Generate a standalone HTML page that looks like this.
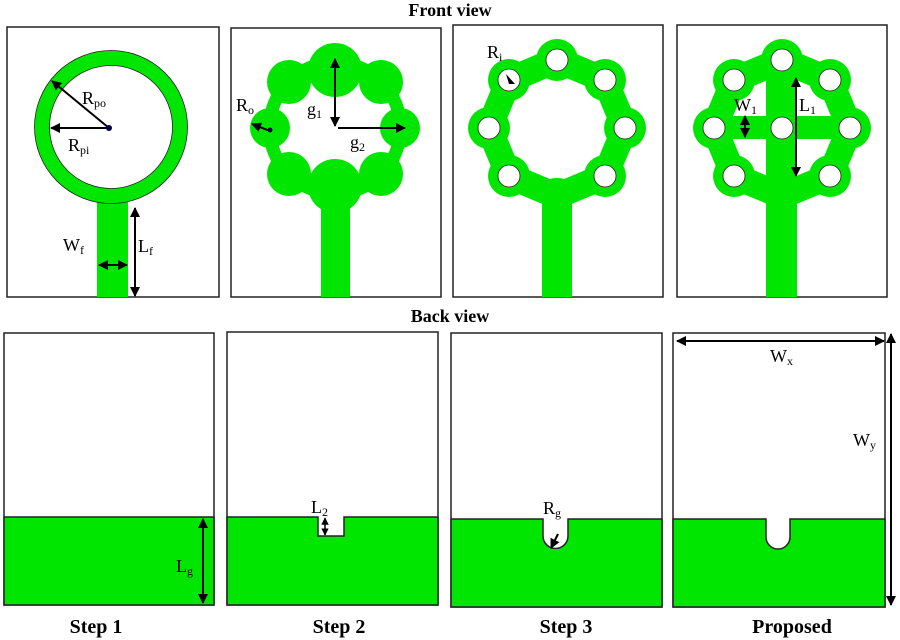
<!DOCTYPE html>
<html><head><meta charset="utf-8"><style>
html,body{margin:0;padding:0;background:#fff;}
svg{display:block;font-family:"Liberation Serif",serif;}
</style></head><body>
<svg width="900" height="640" viewBox="0 0 900 640" xmlns="http://www.w3.org/2000/svg">
<defs>
<marker id="a" viewBox="0 0 10 10" refX="9" refY="5" markerWidth="5" markerHeight="5" orient="auto-start-reverse"><path d="M0,0L10,5L0,10z" fill="#000"/></marker>
</defs>
<g fill="#000" font-weight="bold" font-size="18" text-anchor="middle">
<text x="450" y="16">Front view</text>
<text x="450" y="322">Back view</text>
<text x="96" y="633" font-size="20">Step 1</text>
<text x="339" y="633" font-size="20">Step 2</text>
<text x="566" y="633" font-size="20">Step 3</text>
<text x="792" y="633" font-size="20">Proposed</text>
</g>
<g fill="#fff" stroke="#222" stroke-width="1.5">
<rect x="7" y="27" width="212" height="270"/>
<rect x="231" y="28" width="210" height="269"/>
<rect x="453" y="25" width="210" height="272"/>
<rect x="677" y="25" width="210" height="272"/>
</g>
<!-- Panel 1 -->
<g>
<rect x="97" y="195" width="31" height="102" fill="#00e600"/>
<circle cx="111" cy="127" r="69" fill="none" stroke="#00e600" stroke-width="15"/>
<circle cx="111" cy="127" r="76.5" fill="none" stroke="#222" stroke-width="0.8"/>
<circle cx="111" cy="127" r="61.5" fill="none" stroke="#222" stroke-width="0.8"/>
<g stroke="#000" stroke-width="2" marker-end="url(#a)">
<line x1="109" y1="128" x2="52" y2="81"/>
<line x1="109" y1="128" x2="51" y2="128"/>
<line x1="135" y1="208" x2="135" y2="296" marker-start="url(#a)"/>
<line x1="99" y1="265" x2="127" y2="265" marker-start="url(#a)"/>
</g>
<circle cx="109" cy="128" r="3" fill="#004"/>
<text x="82" y="104" font-size="18">R<tspan font-size="12" dy="3">po</tspan></text>
<text x="68" y="151" font-size="18">R<tspan font-size="12" dy="3">pi</tspan></text>
<text x="63" y="251" font-size="18">W<tspan font-size="12" dy="3">f</tspan></text>
<text x="138" y="252" font-size="18">L<tspan font-size="12" dy="3">f</tspan></text>
</g>
<!-- Panel 2 -->
<g fill="#00e600">
<rect x="321" y="195" width="29" height="102"/>
<circle cx="335" cy="128" r="72"/>
<circle cx="335" cy="128" r="59" fill="#fff"/>
<circle cx="335" cy="70" r="27"/><circle cx="335" cy="186" r="27"/>
<circle cx="270" cy="128" r="20"/><circle cx="400" cy="128" r="20"/>
<circle cx="289" cy="82" r="22"/><circle cx="381" cy="82" r="22"/>
<circle cx="289" cy="174" r="22"/><circle cx="381" cy="174" r="22"/>
<g stroke="#000" stroke-width="2" marker-end="url(#a)" fill="none">
<line x1="335" y1="122" x2="335" y2="59"/>
<line x1="335" y1="100" x2="335" y2="126"/>
<line x1="338" y1="128" x2="405" y2="128"/>
<line x1="270" y1="131" x2="252" y2="124"/>
</g>
<circle cx="270" cy="130" r="2.5" fill="#004"/>
<text x="236" y="111" font-size="18" fill="#000">R<tspan font-size="12" dy="3">o</tspan></text>
<text x="307" y="115" font-size="18" fill="#000">g<tspan font-size="12" dy="3">1</tspan></text>
<text x="350" y="148" font-size="18" fill="#000">g<tspan font-size="12" dy="3">2</tspan></text>
</g>
<!-- Panel 3 -->
<g fill="#00e600">
<rect x="542" y="195" width="30" height="102"/>
<polygon points="625,128 605,176 557,196 509,176 489,128 509,80 557,60 605,80" fill="none" stroke="#00e600" stroke-width="26" stroke-linejoin="round"/>
<ellipse cx="557" cy="192" rx="20" ry="14"/>
<circle cx="625" cy="128" r="21"/><circle cx="489" cy="128" r="21"/>
<circle cx="557" cy="60" r="21"/><circle cx="605" cy="80" r="21"/><circle cx="509" cy="80" r="21"/>
<circle cx="605" cy="176" r="21"/><circle cx="509" cy="176" r="21"/>
<g fill="#fff" stroke="#222" stroke-width="0.8">
<circle cx="625" cy="128" r="11"/><circle cx="489" cy="128" r="11"/>
<circle cx="557" cy="60" r="11"/><circle cx="605" cy="80" r="11"/><circle cx="509" cy="80" r="11"/>
<circle cx="605" cy="176" r="11"/><circle cx="509" cy="176" r="11"/>
</g>
<path d="M506,74L515,84L509,84z" fill="#000"/>
<text x="487" y="58" font-size="18" fill="#000">R<tspan font-size="12" dy="3">i</tspan></text>
</g>
<!-- Panel 4 -->
<g fill="#00e600">
<rect x="766" y="195" width="31" height="102"/>
<polygon points="850,128 830,176 782,196 734,176 714,128 734,80 782,60 830,80" fill="none" stroke="#00e600" stroke-width="26" stroke-linejoin="round"/>
<rect x="766" y="60" width="31" height="140"/>
<rect x="714" y="116" width="136" height="23"/>
<circle cx="850" cy="128" r="21"/><circle cx="714" cy="128" r="21"/>
<circle cx="782" cy="60" r="21"/><circle cx="830" cy="80" r="21"/><circle cx="734" cy="80" r="21"/>
<circle cx="830" cy="176" r="21"/><circle cx="734" cy="176" r="21"/>
<g fill="#fff" stroke="#222" stroke-width="0.8">
<circle cx="850" cy="128" r="11"/><circle cx="714" cy="128" r="11"/>
<circle cx="782" cy="60" r="11"/><circle cx="830" cy="80" r="11"/><circle cx="734" cy="80" r="11"/>
<circle cx="830" cy="176" r="11"/><circle cx="734" cy="176" r="11"/><circle cx="782" cy="128" r="11"/>
</g>
<g stroke="#000" stroke-width="2" marker-end="url(#a)">
<line x1="796" y1="78" x2="796" y2="176" marker-start="url(#a)"/>
<line x1="745" y1="116" x2="745" y2="137" marker-start="url(#a)"/>
</g>
<text x="734" y="111" font-size="18" fill="#000">W<tspan font-size="12" dy="3">1</tspan></text>
<text x="799" y="111" font-size="18" fill="#000">L<tspan font-size="12" dy="3">1</tspan></text>
</g>
<!-- Back panels -->
<g stroke="#222" stroke-width="1.5">
<rect x="4" y="333" width="210" height="272" fill="#fff"/>
<rect x="4" y="517" width="210" height="88" fill="#00e600"/>
<rect x="227" y="332" width="211" height="273" fill="#fff"/>
<path d="M227,517H318V536H344V517H438V605H227z" fill="#00e600"/>
<rect x="451" y="333" width="211" height="274" fill="#fff"/>
<path d="M451,519H543V536A12.5,12.5 0 0 0 568,536V519H662V607H451z" fill="#00e600"/>
<rect x="673" y="333" width="212" height="274" fill="#fff"/>
<path d="M673,519H766V537A12,12 0 0 0 790,537V519H885V607H673z" fill="#00e600"/>
</g>
<g stroke="#000" stroke-width="2" marker-end="url(#a)">
<line x1="203" y1="519" x2="203" y2="603" marker-start="url(#a)"/>
<line x1="325" y1="518" x2="325" y2="535" marker-start="url(#a)" stroke-width="1.5"/>
<line x1="558" y1="534" x2="551" y2="548"/>
<line x1="677" y1="341" x2="884" y2="341" marker-start="url(#a)"/>
<line x1="891" y1="334" x2="891" y2="605" marker-start="url(#a)"/>
</g>
<g font-size="18" fill="#000">
<text x="176" y="572">L<tspan font-size="12" dy="3">g</tspan></text>
<text x="311" y="513">L<tspan font-size="12" dy="3">2</tspan></text>
<text x="543" y="514">R<tspan font-size="12" dy="3">g</tspan></text>
<text x="770" y="362">W<tspan font-size="12" dy="3">x</tspan></text>
<text x="853" y="446">W<tspan font-size="12" dy="3">y</tspan></text>
</g>
</svg>
</body></html>
